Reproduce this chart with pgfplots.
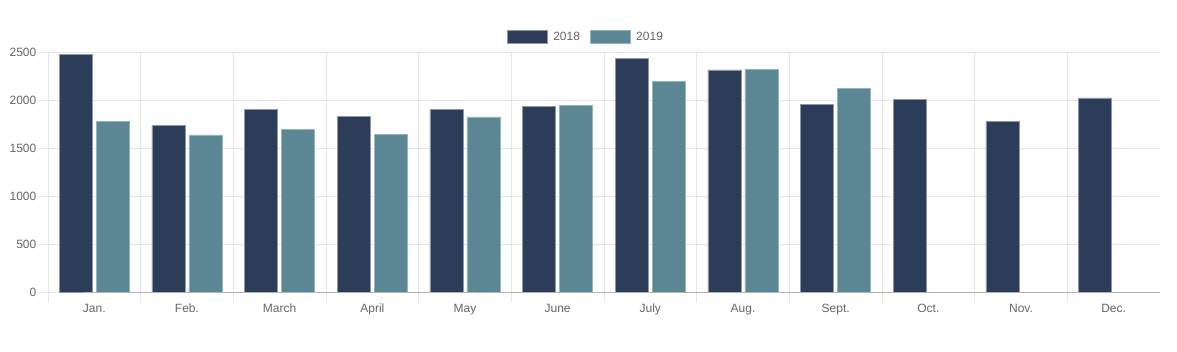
\documentclass[border=0pt]{standalone}
\usepackage{fontspec}
\setmainfont{Liberation Sans}
\usepackage{pgfplots}
\pgfplotsset{compat=1.18}
\definecolor{c18}{RGB}{44,61,90}
\definecolor{c18b}{RGB}{140,150,166}
\definecolor{c19}{RGB}{91,134,147}
\definecolor{c19b}{RGB}{150,180,189}
\definecolor{gridc}{RGB}{230,230,230}
\definecolor{zeroc}{RGB}{180,180,180}
\definecolor{txt}{RGB}{102,102,102}
\begin{document}
\begin{tikzpicture}
\useasboundingbox (-48bp,-59.7bp) rectangle (1129bp,292.3bp);
\begin{axis}[
  scale only axis, width=1112bp, height=240bp,
  at={(0,0)}, anchor=south west,
  xmin=-0.5, xmax=11.5, ymin=0, ymax=2500,
  ybar=4bp, bar width=33bp,
  axis line style={draw=none},
  tick align=outside,
  tick pos=left,
  major tick length=10bp,
  tick style={draw=gridc, line width=0.75bp},
  grid style={draw=gridc, line width=0.75bp},
  ymajorgrids, xmajorgrids,
  ytick={0,500,...,2500},
  xtick={-0.5,0.5,...,10.5},
  xticklabels={},
  extra x ticks={0,1,...,11},
  extra x tick labels={Jan.,Feb.,March,April,May,June,July,Aug.,Sept.,Oct.,Nov.,Dec.},
  extra x tick style={major tick length=0pt, xmajorgrids=false,
     xticklabel style={inner sep=0pt, anchor=north, yshift=-11bp, text height=8.6bp}},
  /pgf/number format/assume math mode=true,
  /pgf/number format/1000 sep={},
  ticklabel style={font=\fontsize{12bp}{14bp}\selectfont, text=txt},
  yticklabel style={inner sep=0pt, xshift=-1.5bp},
  legend columns=-1,
  legend style={at={(0.5,1)}, anchor=center, xshift=-19bp, yshift=15.5bp,
     draw=none, fill=none, inner sep=0pt,
     font=\fontsize{12bp}{14bp}\selectfont, text=txt,
     nodes={inner sep=0pt},
     /tikz/every odd column/.append style={column sep=5.5bp},
     /tikz/every even column/.append style={column sep=10bp}},
  legend image code/.code={\draw[#1] (0bp,-6.5bp) rectangle (40bp,6.5bp);},
]
\addplot[fill=c18, draw=c18b, line width=0.75bp] coordinates {
 (0,2480) (1,1740) (2,1905) (3,1834) (4,1905) (5,1938)
 (6,2438) (7,2316) (8,1959) (9,2007) (10,1782) (11,2025)};
\addplot[fill=c19, draw=c19b, line width=0.75bp] coordinates {
 (0,1782) (1,1639) (2,1698) (3,1646) (4,1827) (5,1948)
 (6,2199) (7,2319) (8,2126)};
\legend{2018,2019}
\draw[zeroc, line width=0.9bp] (rel axis cs:0,0) ++(-10bp,0) -- (rel axis cs:1,0);
\end{axis}
\end{tikzpicture}
\end{document}
